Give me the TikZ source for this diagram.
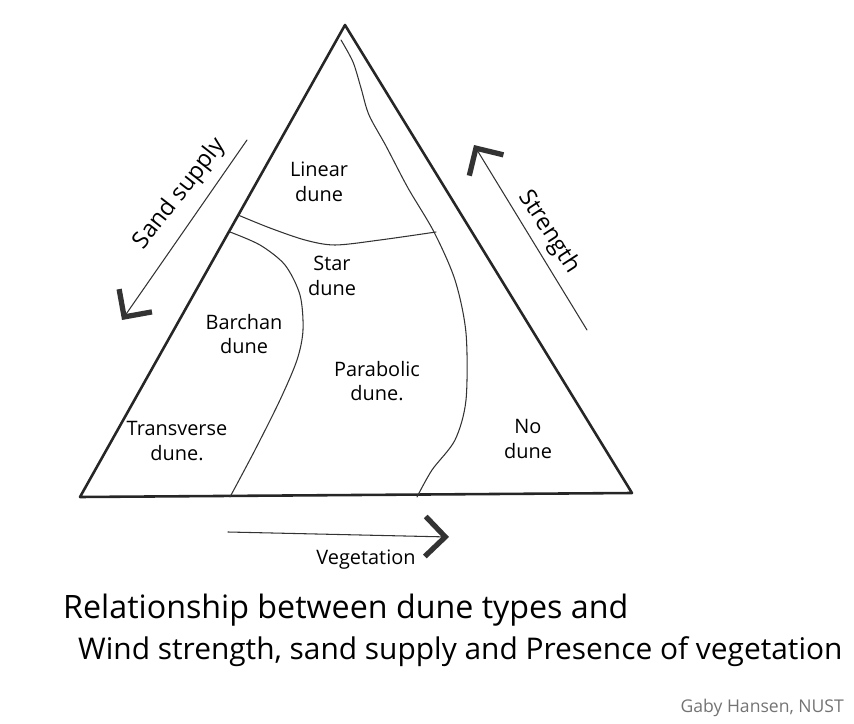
\documentclass[tikz,border=0pt]{standalone}
\usepackage{fontspec}
\setmainfont{Open Sans}
\usepackage{tikz}
\usetikzlibrary{arrows.meta}

\begin{document}
\begin{tikzpicture}[x=0.03cm, y=-0.03cm, line cap=round, line join=round,
  edge/.style={line width=2.2pt, black!85},
  border/.style={line width=0.9pt, black!80},
  region/.style={align=center, font=\fontsize{17}{21}\selectfont, inner sep=0pt},
  trend/.style={line width=0.9pt, black!80, -{Straight Barb[length=6mm, width=12mm, line width=4.5pt]}},
  caption/.style={anchor=west, inner sep=0pt}]
  \useasboundingbox (0,0) rectangle (854,724);
  % triangle
  \coordinate (top) at (345,25);
  \coordinate (left) at (80,497);
  \coordinate (right) at (632,493);
  \draw[edge] (top) -- (left) -- (right) -- cycle;
  % boundaries between the dune types
  \draw[border] plot[smooth] coordinates {(238,215) (270,228) (305,240) (335,245) (380,240) (436,232)};
  \draw[border] plot[smooth] coordinates {(230,232) (260,245) (285,265) (300,295) (303,330) (297,360) (280,400) (255,450) (230,497)};
  \draw[border] plot[smooth] coordinates {(341,40) (353,62) (361,88) (369,115) (386,146) (408,188) (434,232) (455,280) (466,333) (466,400) (455,440) (432,470) (417,497)};
  % dune types
  \node[region] (linear) at (319,182) {Linear\\dune};
  \node[region] (star) at (332,276) {Star\\dune};
  \node[region] (barchan) at (244,334) {Barchan\\dune};
  \node[region] (parabolic) at (377,381) {Parabolic\\dune.};
  \node[region] (transverse) at (177,441) {Transverse\\dune.};
  \node[region] (nodune) at (528,439) {No\\dune};
  % controlling factors
  \coordinate (sand0) at (247,140);
  \coordinate (sand1) at (122,320);
  \draw[trend] (sand0) -- (sand1);
  \node[rotate=52, font=\fontsize{20}{22}\selectfont] (sand) at (180,194) {Sand supply};
  \coordinate (wind0) at (587,330);
  \coordinate (wind1) at (474,145);
  \draw[trend] (wind0) -- (wind1);
  \node[rotate=-57, font=\fontsize{20}{22}\selectfont] (wind) at (549,232) {Strength};
  \coordinate (veg0) at (228,532);
  \coordinate (veg1) at (449,537);
  \draw[trend] (veg0) -- (veg1);
  \node[font=\fontsize{17}{19}\selectfont] (veg) at (366,560) {Vegetation};
  % caption
  \node[caption, font=\fontsize{27.5}{30}\selectfont] (line1) at (63,610) {Relationship between dune types and};
  \node[caption, font=\fontsize{25.5}{30}\selectfont] (line2) at (78,652) {Wind strength, sand supply and Presence of vegetation};
  \node[anchor=east, font=\fontsize{15}{18}\selectfont, text=black!55] (credit) at (848,708) {Gaby Hansen, NUST};
\end{tikzpicture}
\end{document}
